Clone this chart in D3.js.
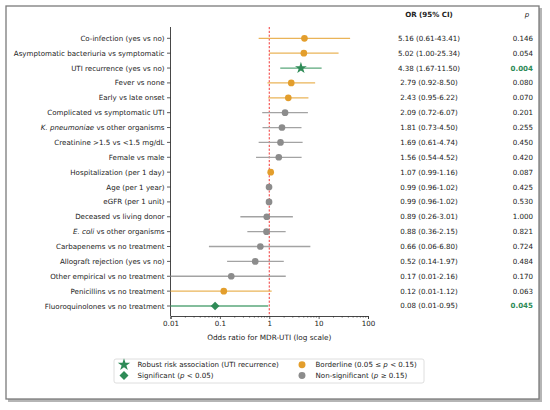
<!DOCTYPE html>
<html><head><meta charset="utf-8">
<script src="https://cdn.jsdelivr.net/npm/d3@7"></script>
<style>body{margin:0;background:#fff}svg{font-family:"DejaVu Sans",sans-serif}</style>
</head><body>
<script>
const labels = [
  "Co-infection (yes vs no)","Asymptomatic bacteriuria vs symptomatic","UTI recurrence (yes vs no)",
  "Fever vs none","Early vs late onset","Complicated vs symptomatic UTI",
  "K. pneumoniae| vs other organisms","Creatinine >1.5 vs <1.5 mg/dL","Female vs male",
  "Hospitalization (per 1 day)","Age (per 1 year)","eGFR (per 1 unit)","Deceased vs living donor",
  "E. coli| vs other organisms","Carbapenems vs no treatment","Allograft rejection (yes vs no)",
  "Other empirical vs no treatment","Penicillins vs no treatment","Fluoroquinolones vs no treatment"];
const orValues = [5.16,5.02,4.38,2.79,2.43,2.09,1.81,1.69,1.56,1.07,0.99,0.99,0.89,0.88,0.66,0.52,0.17,0.12,0.08];
const ciLow  = [0.61,1.00,1.67,0.92,0.95,0.72,0.73,0.61,0.54,0.99,0.96,0.96,0.26,0.36,0.06,0.14,0.01,0.01,0.01];
const ciHigh = [43.41,25.34,11.50,8.50,6.22,6.07,4.50,4.74,4.52,1.16,1.02,1.02,3.01,2.15,6.80,1.97,2.16,1.12,0.95];
const pValues = ["0.146","0.054","0.004","0.080","0.070","0.201","0.255","0.450","0.420","0.087","0.425","0.530","1.000","0.821","0.724","0.484","0.170","0.063","0.045"];
const groups = ["border","border","robust","border","border","ns","ns","ns","ns","border","ns","ns","ns","ns","ns","ns","ns","border","sig"];
const xTicks = [0.01,0.1,1,10,100];

const col = {
  border:{dot:"#E39E2C",line:"#EAB458"},
  robust:{dot:"#2E8B57",line:"#5AA77B"},
  sig:{dot:"#2E8B57",line:"#5AA77B"},
  ns:{dot:"#8C8C8C",line:"#A3A3A3"}
};
const FS = 7.1;
const W=550,H=410;
const svg = d3.select("body").append("svg").attr("width",W).attr("height",H);

// outer frame with shadow
svg.append("rect").attr("x",8).attr("y",8).attr("width",534).attr("height",394).attr("fill","#b5b5b5");
svg.append("rect").attr("x",6).attr("y",6).attr("width",533).attr("height",393).attr("fill","#fff").attr("stroke","#7a7a7a").attr("stroke-width",1.3);

const x = d3.scaleLog().domain([0.01,100]).range([170.5,368]);
const y = d3.scalePoint().domain(d3.range(labels.length)).range([38.3,306]);
const yTop = 27, yBot = 316;

// spines
svg.append("line").attr("x1",170.5).attr("x2",170.5).attr("y1",yTop).attr("y2",yBot).attr("stroke","#333").attr("stroke-width",0.9);
const xAxis = d3.axisBottom(x).tickValues(xTicks).tickFormat(d=>String(d)).tickSize(3).tickPadding(2);
const gx = svg.append("g").attr("transform",`translate(0,${yBot})`).call(xAxis);
gx.select(".domain").attr("stroke","#333").attr("stroke-width",0.9);
gx.selectAll(".tick line").attr("stroke","#333").attr("stroke-width",0.8);
gx.selectAll("text").attr("font-size",FS).attr("fill","#222").attr("font-family","DejaVu Sans");
// minor ticks
const minor=[];
[0.01,0.1,1,10].forEach(d=>{for(let k=2;k<10;k++)minor.push(d*k);});
svg.append("g").selectAll("line").data(minor).join("line")
  .attr("x1",d=>x(d)).attr("x2",d=>x(d)).attr("y1",yBot).attr("y2",yBot+1.7)
  .attr("stroke","#333").attr("stroke-width",0.6);
svg.append("text").attr("x",x(1)).attr("y",339.5).attr("text-anchor","middle").attr("font-size",FS+0.2).attr("fill","#222")
  .text("Odds ratio for MDR-UTI (log scale)");

// reference line
svg.append("line").attr("x1",x(1)).attr("x2",x(1)).attr("y1",yTop).attr("y2",yBot)
  .attr("stroke","#F02020").attr("stroke-width",0.9).attr("stroke-dasharray","2.2,1.6");

// y ticks & labels
const rows = svg.append("g").selectAll("g").data(labels).join("g").attr("transform",(d,i)=>`translate(0,${y(i)})`);
rows.append("line").attr("x1",167).attr("x2",170.5).attr("stroke","#333").attr("stroke-width",0.8);
rows.append("text").attr("x",164.5).attr("dy","0.35em").attr("text-anchor","end").attr("font-size",FS).attr("fill","#222")
  .each(function(d){
    const t=d3.select(this);
    if(d.includes("|")){const [a,b]=d.split("|");t.append("tspan").attr("font-style","italic").text(a);t.append("tspan").text(b);}
    else t.text(d);
  });

// markers
const symPath = (g,big) => g==="robust"?d3.symbol(d3.symbolStar,big?48:43)()
  : g==="sig"?d3.symbol(d3.symbolSquare,big?40:38)()
  : d3.symbol(d3.symbolCircle,big?38:35)();
const symRot = g => g==="sig"?" rotate(45)":"";

const marks = svg.append("g");
marks.selectAll("line").data(labels).join("line")
  .attr("x1",(d,i)=>x(ciLow[i])).attr("x2",(d,i)=>x(ciHigh[i]))
  .attr("y1",(d,i)=>y(i)).attr("y2",(d,i)=>y(i))
  .attr("stroke",(d,i)=>col[groups[i]].line).attr("stroke-width",1.3);
marks.selectAll("path").data(labels).join("path")
  .attr("transform",(d,i)=>`translate(${x(orValues[i])},${y(i)})`+symRot(groups[i]))
  .attr("d",(d,i)=>symPath(groups[i],false)).attr("fill",(d,i)=>col[groups[i]].dot);

// table
svg.append("text").attr("x",429).attr("y",14.7).attr("dy","0.35em").attr("text-anchor","middle").attr("font-size",FS).attr("font-weight","bold").attr("fill","#222").text("OR (95% CI)");
svg.append("text").attr("x",527).attr("y",14.7).attr("dy","0.35em").attr("text-anchor","middle").attr("font-size",FS).attr("font-style","italic").attr("fill","#222").text("p");
const fmt = v=>v.toFixed(2);
svg.append("g").selectAll("text").data(labels).join("text")
  .attr("x",429).attr("y",(d,i)=>y(i)).attr("dy","0.35em").attr("text-anchor","middle").attr("font-size",FS).attr("fill","#222")
  .text((d,i)=>`${fmt(orValues[i])} (${fmt(ciLow[i])}-${fmt(ciHigh[i])})`);
svg.append("g").selectAll("text").data(pValues).join("text")
  .attr("x",533).attr("y",(d,i)=>y(i)).attr("dy","0.35em").attr("text-anchor","end").attr("font-size",FS)
  .attr("font-weight",(d,i)=>groups[i]==="robust"||groups[i]==="sig"?"bold":"normal")
  .attr("fill",(d,i)=>groups[i]==="robust"||groups[i]==="sig"?"#2E8B57":"#222")
  .text(d=>d);

// legend
const lg = svg.append("g");
lg.append("rect").attr("x",114).attr("y",359).attr("width",310).attr("height",24).attr("rx",2)
  .attr("fill","#fff").attr("stroke","#d6d6d6").attr("stroke-width",0.8);
const legendItems = [
  {g:"robust",x:124,y:364.7,parts:[["Robust risk association (UTI recurrence)",false]]},
  {g:"sig",x:124,y:375.5,parts:[["Significant (",false],["p",true],[" < 0.05)",false]]},
  {g:"border",x:302,y:364.7,parts:[["Borderline (0.05 \u2264 ",false],["p",true],[" < 0.15)",false]]},
  {g:"ns",x:302,y:375.5,parts:[["Non-significant (",false],["p",true],[" \u2265 0.15)",false]]}
];
legendItems.forEach(it=>{
  lg.append("path").attr("transform",`translate(${it.x},${it.y})`+symRot(it.g)).attr("d",symPath(it.g,true)).attr("fill",col[it.g].dot);
  const t = lg.append("text").attr("x",it.x+13.5).attr("y",it.y).attr("dy","0.35em").attr("font-size",FS).attr("fill","#222");
  it.parts.forEach(([s2,ital])=>{const ts=t.append("tspan").text(s2); if(ital) ts.attr("font-style","italic");});
});
</script>
</body></html>
